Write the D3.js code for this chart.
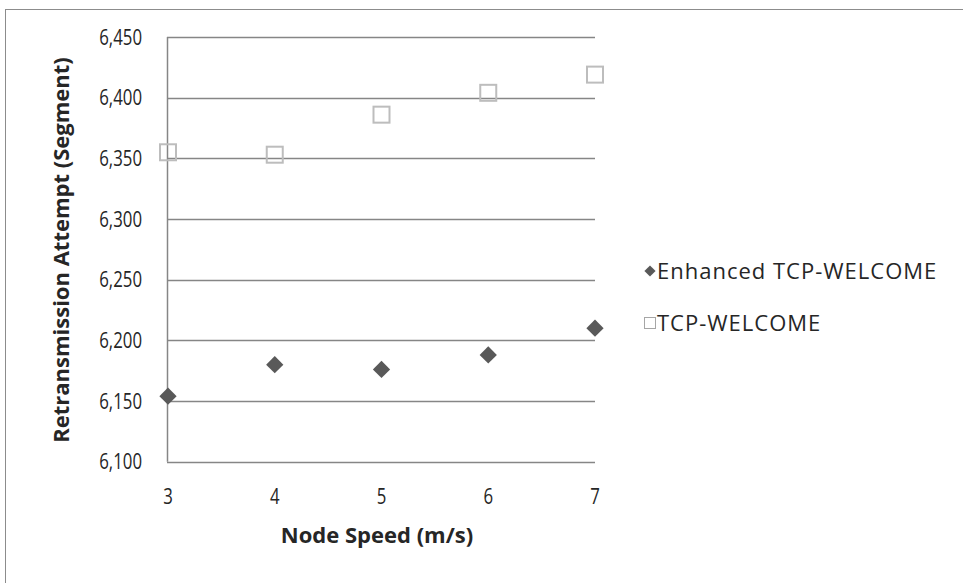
<!DOCTYPE html>
<html>
<head>
<meta charset="utf-8">
<script src="https://cdn.jsdelivr.net/npm/d3@7"></script>
<style>
  body { margin: 0; background: #fff; }
  text { font-family: "Open Sans", "Noto Sans", sans-serif; fill: #262626; }
</style>
</head>
<body>
<div id="chart"></div>
<script>
const speeds = [3, 4, 5, 6, 7];
const enhanced = [6154, 6180, 6176, 6188, 6210];
const welcome = [6355, 6353, 6386, 6404, 6419];
const yTicks = [6100, 6150, 6200, 6250, 6300, 6350, 6400, 6450];
const seriesNames = ["Enhanced TCP-WELCOME", "TCP-WELCOME"];

const width = 963, height = 583;
const svg = d3.select("#chart").append("svg")
    .attr("width", width).attr("height", height);

// outer frame (runs off the right and bottom edges)
svg.append("rect")
    .attr("x", 5.5).attr("y", 9.5)
    .attr("width", 1000).attr("height", 1000)
    .attr("fill", "none").attr("stroke", "#8c8c8c");

const x = d3.scaleLinear().domain([3, 7]).range([168, 595]);
const y = d3.scaleLinear().domain([6100, 6450]).range([461.7, 37]);

// gridlines
svg.append("g")
    .selectAll("line")
    .data(yTicks)
    .join("line")
    .attr("x1", 167).attr("x2", 595)
    .attr("y1", d => Math.round(y(d)) + 0.5)
    .attr("y2", d => Math.round(y(d)) + 0.5)
    .attr("stroke", "#868686").attr("stroke-width", 1.5);

// y axis line
svg.append("line")
    .attr("x1", 167.5).attr("x2", 167.5)
    .attr("y1", y(6450)).attr("y2", y(6100))
    .attr("stroke", "#868686").attr("stroke-width", 1.5);

// tick labels: tall and narrow, like the stretched original
const fmt = d3.format(",");
svg.append("g")
    .selectAll("text")
    .data(yTicks)
    .join("text")
    .attr("transform", d => `translate(142,${y(d) + 7.5}) scale(0.8,1)`)
    .attr("text-anchor", "end")
    .style("font-size", "21px")
    .text(d => fmt(d));

svg.append("g")
    .selectAll("text")
    .data(speeds)
    .join("text")
    .attr("transform", d => `translate(${x(d)},504) scale(0.8,1)`)
    .attr("text-anchor", "middle")
    .style("font-size", "21px")
    .text(d => d);

// axis titles
svg.append("text")
    .attr("x", 377).attr("y", 543)
    .attr("text-anchor", "middle")
    .style("font-size", "22px").style("font-weight", "bold")
    .text("Node Speed (m/s)");

svg.append("text")
    .attr("transform", "translate(69,250) rotate(-90)")
    .attr("text-anchor", "middle")
    .style("font-size", "22px").style("font-weight", "bold")
    .text("Retransmission Attempt (Segment)");

const diamond = d3.symbol().type(d3.symbolDiamond2).size(190);

// TCP-WELCOME squares
svg.append("g")
    .selectAll("rect")
    .data(speeds.map((s, i) => [s, welcome[i]]))
    .join("rect")
    .attr("x", d => x(d[0]) - 8).attr("y", d => y(d[1]) - 8)
    .attr("width", 16).attr("height", 16)
    .attr("fill", "none").attr("stroke", "#bdbdbd").attr("stroke-width", 2);

// Enhanced diamonds
svg.append("g")
    .selectAll("path")
    .data(speeds.map((s, i) => [s, enhanced[i]]))
    .join("path")
    .attr("d", diamond)
    .attr("transform", d => `translate(${x(d[0])},${y(d[1])})`)
    .attr("fill", "#595959");

// legend
const legend = svg.append("g");
legend.append("path")
    .attr("d", d3.symbol().type(d3.symbolDiamond2).size(80))
    .attr("transform", "translate(650,271)")
    .attr("fill", "#595959");
legend.append("rect")
    .attr("x", 644.5).attr("y", 317.5).attr("width", 11).attr("height", 11)
    .attr("fill", "none").attr("stroke", "#a6a6a6").attr("stroke-width", 1);
legend.selectAll("text.leg")
    .data(seriesNames)
    .join("text")
    .attr("class", "leg")
    .attr("x", 657)
    .attr("y", (d, i) => 279 + i * 52)
    .style("font-size", "22px")
    .style("letter-spacing", "1px")
    .text(d => d);
</script>
</body>
</html>
